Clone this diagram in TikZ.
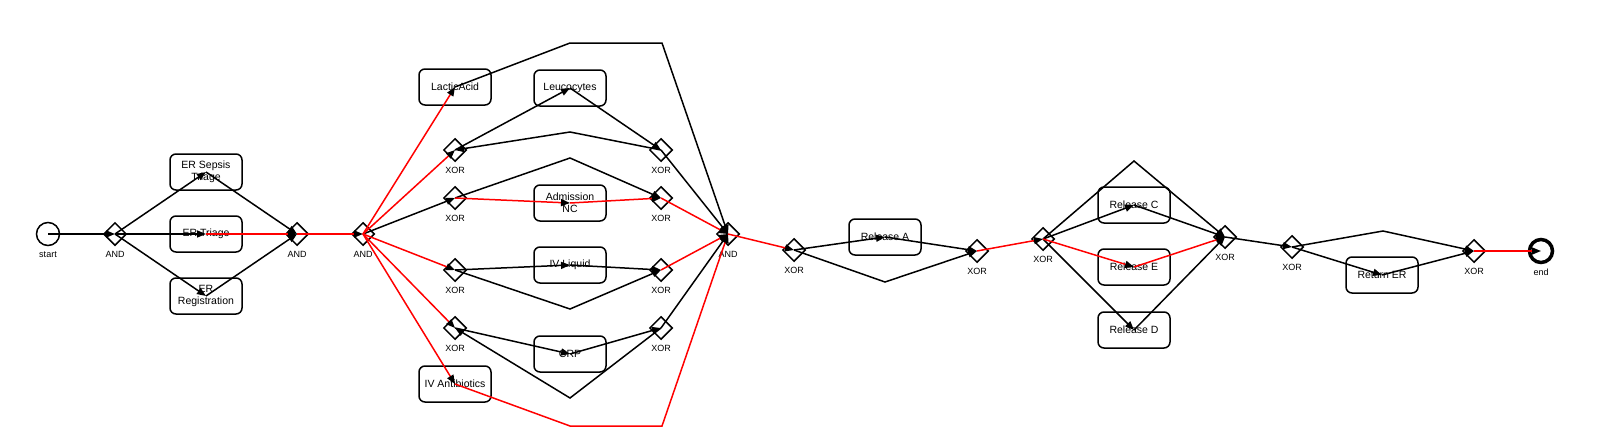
\documentclass[tikz,border=0pt]{standalone}
\usepackage{fontspec}
\setmainfont{Liberation Sans}
\usetikzlibrary{arrows.meta,shapes.geometric}

\begin{document}
\begin{tikzpicture}[x=1pt,y=1pt,yscale=-1,
	task/.style={draw,line width=1.5pt,rounded corners=6pt,fill=white,minimum width=72pt,minimum height=36pt,inner sep=1pt,align=center,font=\fontsize{10.5}{12}\selectfont},
	gate/.style={draw,diamond,line width=1.5pt,fill=white,minimum width=23pt,minimum height=23pt,inner sep=0pt,
		label={[font=\fontsize{9}{10}\selectfont,inner sep=0pt,label distance=5pt]below:#1}},
	event/.style={draw,circle,fill=white,minimum size=23pt,inner sep=0pt,
		label={[font=\fontsize{9}{10}\selectfont,inner sep=0pt,label distance=5pt]below:#1}},
	flow/.style={line width=1.5pt,-{Triangle[length=9pt,width=7pt,color=black]}},
	hot/.style={flow,color=red}]
	\useasboundingbox (0,0) rectangle (1611,447);
	
	%Shape: Events
	\node [event=start,line width=1.5pt] (start) at (48,234) {};
	\node [event=end,line width=3.5pt] (end) at (1541,251) {};
	
	%Shape: Gates
	\node [gate=AND] (and1) at (115,234) {};
	\node [gate=AND] (and2) at (297,234) {};
	\node [gate=AND] (and3) at (363,234) {};
	\node [gate=XOR] (x1l) at (455,150) {};
	\node [gate=XOR] (x1r) at (661,150) {};
	\node [gate=XOR] (x2l) at (455,198) {};
	\node [gate=XOR] (x2r) at (661,198) {};
	\node [gate=XOR] (x3l) at (455,270) {};
	\node [gate=XOR] (x3r) at (661,270) {};
	\node [gate=XOR] (x4l) at (455,328) {};
	\node [gate=XOR] (x4r) at (661,328) {};
	\node [gate=AND] (and4) at (728,234) {};
	\node [gate=XOR] (x5l) at (794,250) {};
	\node [gate=XOR] (x5r) at (977,251) {};
	\node [gate=XOR] (x6l) at (1043,239) {};
	\node [gate=XOR] (x6r) at (1225,237) {};
	\node [gate=XOR] (x7l) at (1292,247) {};
	\node [gate=XOR] (x7r) at (1474,251) {};
	
	%Shape: Tasks
	\node [task] (sepsis) at (206,172) {ER Sepsis\\Triage};
	\node [task] (triage) at (206,234) {ER Triage};
	\node [task] (reg) at (206,296) {ER\\Registration};
	\node [task] (lactic) at (455,87) {LacticAcid};
	\node [task] (leuco) at (570,88) {Leucocytes};
	\node [task] (admnc) at (570,203) {Admission\\NC};
	\node [task] (ivliq) at (570,265) {IV Liquid};
	\node [task] (crp) at (570,354) {CRP};
	\node [task] (ivanti) at (455,384) {IV Antibiotics};
	\node [task] (rela) at (885,237) {Release A};
	\node [task] (relc) at (1134,205) {Release C};
	\node [task] (rele) at (1134,267) {Release E};
	\node [task] (reld) at (1134,330) {Release D};
	\node [task] (reter) at (1382,275) {Return ER};
	
	%Straight Lines: black flows
	\draw [flow] (start.center) -- (and1.center);
	\draw [flow] (and1.center) -- (sepsis.center);
	\draw [flow] (and1.center) -- (triage.center);
	\draw [flow] (and1.center) -- (reg.center);
	\draw [flow] (sepsis.center) -- (and2.center);
	\draw [flow] (reg.center) -- (and2.center);
	\draw [flow] (and3.center) -- (x2l.center);
	\draw [flow] (lactic.center) -- (570,43) -- (662,43) -- (and4.center);
	\draw [flow] (x1l.center) -- (leuco.center);
	\draw [flow] (leuco.center) -- (x1r.center);
	\draw [flow] (x1r.center) -- (570,132) -- (x1l.center);
	\draw [flow] (x1r.center) -- (and4.center);
	\draw [flow] (x2l.center) -- (570,158) -- (x2r.center);
	\draw [flow] (x3l.center) -- (ivliq.center);
	\draw [flow] (ivliq.center) -- (x3r.center);
	\draw [flow] (x3l.center) -- (570,309) -- (x3r.center);
	\draw [flow] (x4l.center) -- (crp.center);
	\draw [flow] (crp.center) -- (x4r.center);
	\draw [flow] (x4r.center) -- (570,398) -- (x4l.center);
	\draw [flow] (x4r.center) -- (and4.center);
	\draw [flow] (x5l.center) -- (rela.center);
	\draw [flow] (rela.center) -- (x5r.center);
	\draw [flow] (x5l.center) -- (885,282) -- (x5r.center);
	\draw [flow] (x6l.center) -- (relc.center);
	\draw [flow] (relc.center) -- (x6r.center);
	\draw [flow] (x6l.center) -- (reld.center);
	\draw [flow] (reld.center) -- (x6r.center);
	\draw [flow] (x6l.center) -- (1134,161) -- (x6r.center);
	\draw [flow] (x6r.center) -- (x7l.center);
	\draw [flow] (x7l.center) -- (reter.center);
	\draw [flow] (reter.center) -- (x7r.center);
	\draw [flow] (x7l.center) -- (1383,231) -- (x7r.center);
	
	%Straight Lines: red flows
	\draw [hot] (triage.center) -- (and2.center);
	\draw [hot] (and2.center) -- (and3.center);
	\draw [hot] (and3.center) -- (lactic.center);
	\draw [hot] (and3.center) -- (x1l.center);
	\draw [hot] (and3.center) -- (x3l.center);
	\draw [hot] (and3.center) -- (x4l.center);
	\draw [hot] (and3.center) -- (ivanti.center);
	\draw [hot] (x2l.center) -- (admnc.center);
	\draw [hot] (admnc.center) -- (x2r.center);
	\draw [hot] (x2r.center) -- (and4.center);
	\draw [hot] (x3r.center) -- (and4.center);
	\draw [hot] (ivanti.center) -- (570,426) -- (662,426) -- (and4.center);
	\draw [hot] (and4.center) -- (x5l.center);
	\draw [hot] (x5r.center) -- (x6l.center);
	\draw [hot] (x6l.center) -- (rele.center);
	\draw [hot] (rele.center) -- (x6r.center);
	\draw [hot] (x7r.center) -- (end.center);
	
\end{tikzpicture}
\end{document}
